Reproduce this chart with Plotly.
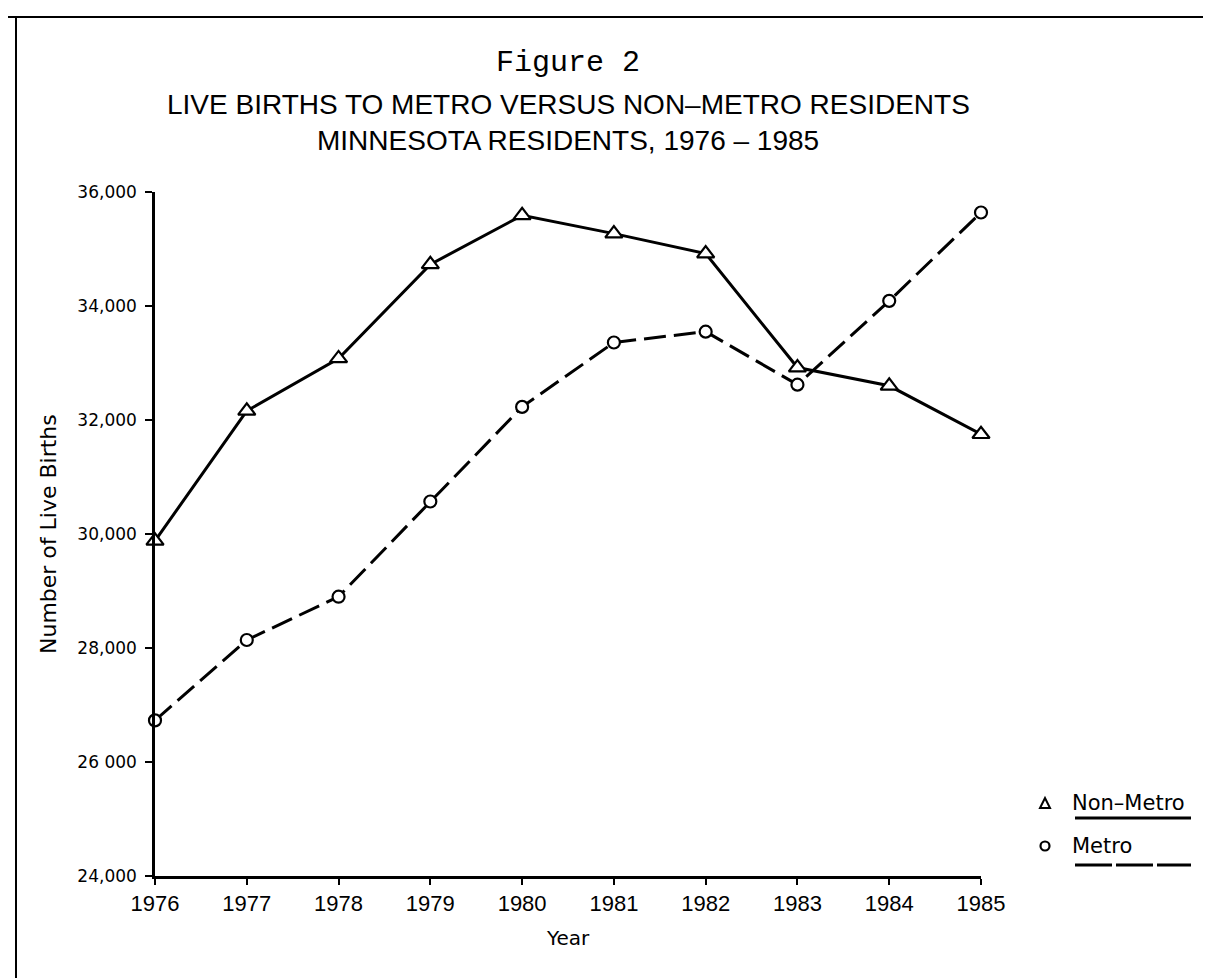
import plotly.graph_objects as go

years = [1976, 1977, 1978, 1979, 1980, 1981, 1982, 1983, 1984, 1985]
non_metro = [29880, 32160, 33080, 34730, 35590, 35270, 34920, 32920, 32600, 31750]
metro = [26730, 28140, 28900, 30570, 32230, 33360, 33550, 32620, 34090, 35640]
y_ticks = [24000, 26000, 28000, 30000, 32000, 34000, 36000]
y_tick_text = ["24,000", "26 000", "28,000", "30,000", "32,000", "34,000", "36,000"]

W, H = 1211, 978
L, R, T, B = 147, 238, 184, 110
PW, PH = W - L - R, H - T - B


def px(x):
    return (x - L) / PW


def py(y):
    return (H - B - y) / PH


fig = go.Figure()
fig.add_trace(go.Scatter(
    x=years, y=non_metro, mode="lines+markers", name="Non-Metro",
    line=dict(color="black", width=3),
    marker=dict(symbol="triangle-up", size=15, color="white",
                line=dict(color="black", width=2.2)),
    cliponaxis=False,
))
fig.add_trace(go.Scatter(
    x=years, y=metro, mode="lines+markers", name="Metro",
    line=dict(color="black", width=3, dash="22px,8px"),
    marker=dict(symbol="circle", size=12, color="white",
                line=dict(color="black", width=2.2)),
    cliponaxis=False,
))

sans = "DejaVu Sans"
narrow = "Liberation Sans"


def note(text, x, y, family, size, xanchor="center", angle=0):
    return dict(text=text, x=px(x), y=py(y), xref="paper", yref="paper",
                xanchor=xanchor, yanchor="middle", showarrow=False, textangle=angle,
                font=dict(family=family, size=size, color="black"))


annotations = [
    note("Figure 2", 560, 55, "Liberation Mono", 30),
    note("LIVE BIRTHS TO METRO VERSUS NON–METRO RESIDENTS", 560, 97, narrow, 28),
    note("MINNESOTA RESIDENTS, 1976 – 1985", 560, 132, narrow, 28),
    note("Number of Live Births", 40, 526, sans, 22, angle=-90),
    note("Year", 560, 930, sans, 20),
    note("Non–Metro", 1062, 795, sans, 21, xanchor="left"),
    note("Metro", 1062, 838, sans, 21, xanchor="left"),
]

shapes = [
    # page border
    dict(type="line", xref="paper", yref="paper", x0=px(0), x1=px(W), y0=py(9), y1=py(9),
         line=dict(color="black", width=2)),
    dict(type="line", xref="paper", yref="paper", x0=px(8), x1=px(8), y0=py(9), y1=py(H),
         line=dict(color="black", width=2)),
    # legend underlines
    dict(type="line", xref="paper", yref="paper", x0=px(1067), x1=px(1183), y0=py(810), y1=py(810),
         line=dict(color="black", width=3)),
    dict(type="line", xref="paper", yref="paper", x0=px(1067), x1=px(1183), y0=py(857), y1=py(857),
         line=dict(color="black", width=3, dash="37px,4px")),
    # legend symbols
    dict(type="path", xref="paper", yref="paper",
         path="M {} {} L {} {} L {} {} Z".format(px(1032), py(800), px(1042), py(800), px(1037), py(790)),
         line=dict(color="black", width=2)),
    dict(type="circle", xref="paper", yref="paper", x0=px(1032.5), x1=px(1041.5),
         y0=py(842.5), y1=py(833.5), line=dict(color="black", width=2.2)),
]

fig.update_layout(
    width=W, height=H,
    margin=dict(l=L, r=R, t=T, b=B, pad=0),
    paper_bgcolor="white", plot_bgcolor="white",
    showlegend=False,
    annotations=annotations,
    shapes=shapes,
    xaxis=dict(range=[1976, 1985], tickvals=years, ticktext=[str(y) for y in years],
               showgrid=False, zeroline=False, showline=True, linecolor="black", linewidth=2.5,
               ticks="outside", ticklen=6, tickwidth=2, tickcolor="black",
               tickfont=dict(family=narrow, size=22, color="black")),
    yaxis=dict(range=[24000, 36000], tickvals=y_ticks, ticktext=y_tick_text,
               showgrid=False, zeroline=False, showline=True, linecolor="black", linewidth=2.5,
               ticks="outside", ticklen=7, tickwidth=2, tickcolor="black",
               ticklabelstandoff=5,
               tickfont=dict(family=sans, size=17, color="black")),
)

fig.write_html("out.html")
